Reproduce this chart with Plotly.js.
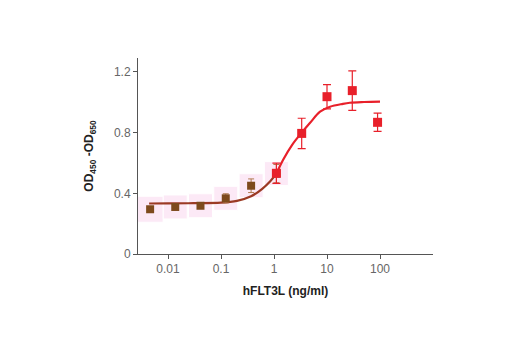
<!DOCTYPE html>
<html><head><meta charset="utf-8">
<script src="https://cdn.plot.ly/plotly-3.0.1.min.js"></script>
<style>html,body{margin:0;padding:0;background:#fff}</style>
</head><body><div id="chart" style="width:520px;height:350px"></div>
<script>
// Reference standard (brown) points
const brownX = [0.0046, 0.0137, 0.041, 0.123, 0.37, 1.11];
const brownY = [0.295, 0.31, 0.318, 0.367, 0.45, 0.53];
const brownErr = [0.012, 0.012, 0.014, 0.03, 0.045, 0.06];
// hFLT3L (red) points
const redX = [1.11, 3.33, 10, 30, 90];
const redY = [0.532, 0.795, 1.037, 1.077, 0.868];
const redErr = [0.067, 0.1, 0.08, 0.13, 0.06];
// fitted curve
const curveBrownX = [0.0044, 0.01, 0.03, 0.1, 0.2, 0.37, 0.6, 0.85, 1.11];
const curveBrownY = [0.333, 0.334, 0.335, 0.338, 0.35, 0.38, 0.43, 0.48, 0.53];
const curveRedX = [1.11, 1.48, 2.2, 3.33, 4.8, 7.4, 11.4, 20, 27, 50, 100];
const curveRedY = [0.53, 0.62, 0.72, 0.8, 0.865, 0.938, 0.971, 0.99, 0.997, 1.002, 1.005];
const xTicks = [0.01, 0.1, 1, 10, 100];
const xTickText = ['0.01', '0.1', '1', '10', '100'];
const yTicks = [0, 0.4, 0.8, 1.2];
const yTickText = ['0', '0.4', '0.8', '1.2'];

const brown = '#7d4a1c';
const red = '#e8202a';
const fam = 'Liberation Sans, Arial, sans-serif';
const traces = [
  {x: brownX, y: brownY, type: 'scatter', mode: 'markers', hoverinfo: 'skip',
   marker: {symbol: 'square', size: [26, 24, 24, 24, 24, 24], color: 'rgba(250,205,235,0.6)'}},
  {x: curveBrownX, y: curveBrownY, type: 'scatter', mode: 'lines', line: {color: '#9b3a24', width: 2.2, shape: 'spline'}},
  {x: curveRedX, y: curveRedY, type: 'scatter', mode: 'lines', line: {color: red, width: 2.2, shape: 'spline'}},
  {x: brownX, y: brownY, type: 'scatter', mode: 'markers',
   error_y: {type: 'data', array: brownErr, color: '#b07a50', thickness: 1, width: 3},
   marker: {symbol: 'square', size: 8, color: brown}},
  {x: redX, y: redY, type: 'scatter', mode: 'markers',
   error_y: {type: 'data', array: redErr, color: red, thickness: 1.2, width: 4},
   marker: {symbol: 'square', size: 9, color: red}}
];
const layout = {
  width: 520, height: 350, showlegend: false,
  margin: {l: 138, r: 87, t: 58, b: 96},
  paper_bgcolor: '#fff', plot_bgcolor: '#fff',
  font: {family: fam, color: '#555'},
  xaxis: {type: 'log', range: [-2.566, 3.0], tickvals: xTicks, ticktext: xTickText,
    showgrid: false, zeroline: false, showline: true, linecolor: '#555', linewidth: 1,
    ticks: 'outside', ticklen: 4, tickcolor: '#555', tickfont: {family: fam, size: 12, color: '#666'},
    title: {text: 'hFLT3L (ng/ml)', font: {family: fam, size: 12, color: '#222', weight: 'bold'}, standoff: 11}},
  yaxis: {range: [0, 1.292], tickvals: yTicks, ticktext: yTickText,
    showgrid: false, zeroline: false, showline: true, linecolor: '#555', linewidth: 1,
    ticks: 'outside', ticklen: 4, tickcolor: '#555', tickfont: {family: fam, size: 12, color: '#666'},
    title: {text: 'OD<sub>450</sub> -OD<sub>650</sub>', font: {family: fam, size: 12, color: '#222', weight: 'bold'}, standoff: 17}}
};
Plotly.newPlot('chart', traces, layout, {displayModeBar: false, staticPlot: true});
</script></body></html>
